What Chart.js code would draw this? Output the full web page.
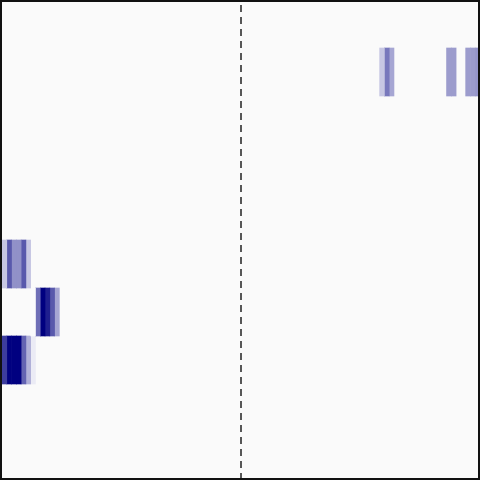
<!DOCTYPE html>
<html>
<head>
<meta charset="utf-8">
<script src="https://cdn.jsdelivr.net/npm/chart.js@4.4.1/dist/chart.umd.min.js"></script>
<style>
  html, body { margin: 0; padding: 0; background: #ffffff; }
  canvas { display: block; }
</style>
</head>
<body>
<canvas id="heatChart" width="480" height="480"></canvas>
<script>
// rows of the heatmap, top to bottom
const rowLabels = ['0', '1', '2', '3', '4', '5', '6', '7', '8', '9'];

// every cell is one bin wide: its row, its first bin and its value (0..1)
const cellRow   = ['1', '1', '1', '1', '1', '1', '1', '1',
                   '5', '5', '5', '5', '5', '5',
                   '6', '6', '6', '6', '6', '6',
                   '7', '7', '7', '7', '7', '7', '7'];
const cellBin   = [79, 80, 81, 93, 94, 97, 98, 99,
                   0, 1, 2, 3, 4, 5,
                   6, 7, 8, 9, 10, 11,
                   0, 1, 2, 3, 4, 5, 6];
const cellValue = [0.22, 0.53, 0.35, 0.39, 0.39, 0.39, 0.39, 0.41,
                   0.22, 0.65, 0.43, 0.43, 0.65, 0.22,
                   0.02, 0.57, 1.00, 0.88, 0.65, 0.35,
                   0.76, 1.00, 1.00, 1.00, 0.61, 0.31, 0.08];

const binCount = 100;
const centerBin = 50;

// white -> navy colour map
function cellColor(v) {
    const r = Math.round(255 * (1 - v));
    const b = Math.round(255 - 127 * v);
    return 'rgb(' + r + ',' + r + ',' + b + ')';
}

const frame = {
    id: 'frame',
    beforeDraw(chart) {
        const { ctx } = chart;
        ctx.save();
        ctx.fillStyle = '#fafafa';
        ctx.fillRect(0, 0, chart.width, chart.height);
        ctx.restore();
    },
    afterDraw(chart) {
        const { ctx, chartArea: a } = chart;
        const x = chart.scales.x.getPixelForValue(centerBin);
        ctx.save();
        ctx.strokeStyle = '#222';
        ctx.lineWidth = 1.5;
        ctx.setLineDash([7, 5]);
        ctx.lineDashOffset = 9;
        ctx.beginPath();
        ctx.moveTo(x, 2);
        ctx.lineTo(x, 478);
        ctx.stroke();
        ctx.setLineDash([]);
        ctx.strokeStyle = '#111';
        ctx.lineWidth = 2;
        ctx.strokeRect(1, 1, 478, 478);
        ctx.restore();
    }
};

function createHeatChart() {
    const ctx = document.getElementById('heatChart');
    const datasets = cellBin.map((bin, i) => ({
        data: [{ y: cellRow[i], x: [bin, bin + 1] }],
        backgroundColor: cellColor(cellValue[i]),
        borderWidth: 0,
        grouped: false,
        barPercentage: 1,
        categoryPercentage: 1
    }));
    new Chart(ctx, {
        type: 'bar',
        data: { labels: rowLabels, datasets: datasets },
        options: {
            indexAxis: 'y',
            responsive: false,
            animation: false,
            layout: { padding: { left: 2, right: 0, top: 0, bottom: 0 } },
            plugins: {
                legend: { display: false },
                tooltip: { enabled: false }
            },
            scales: {
                x: { type: 'linear', min: 0, max: binCount, display: false },
                y: { type: 'category', display: false }
            }
        },
        plugins: [frame]
    });
}

document.addEventListener('DOMContentLoaded', () => {
    createHeatChart();
});
</script>
</body>
</html>
